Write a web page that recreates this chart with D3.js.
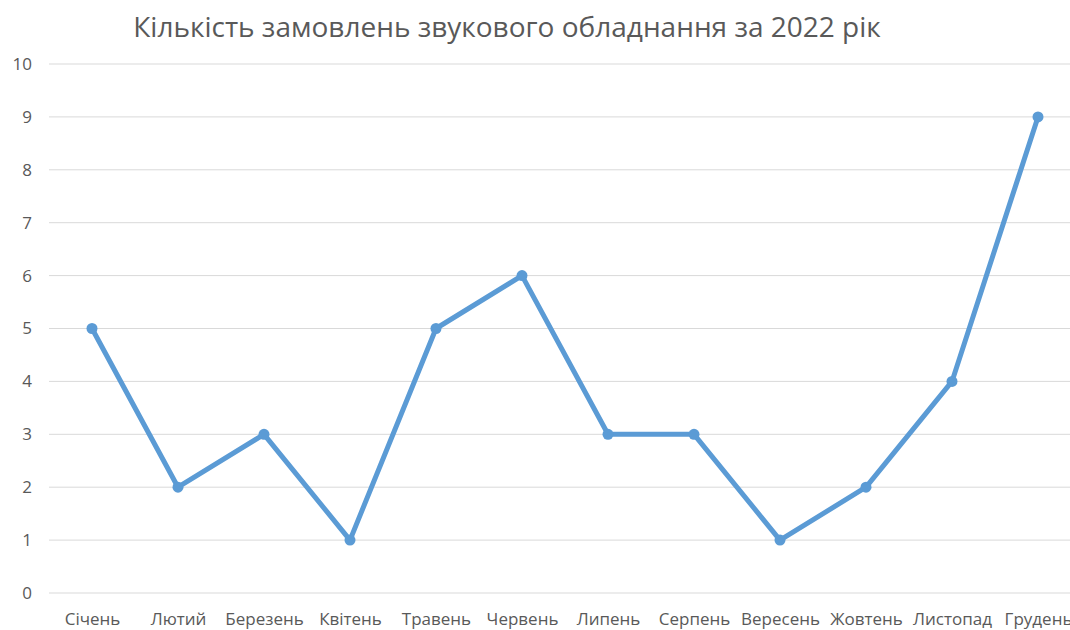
<!DOCTYPE html>
<meta charset="utf-8">
<script src="https://d3js.org/d3.v7.min.js"></script>
<style>
  body { margin: 0; background: #fff; }
  text { font-family: "Open Sans", "Noto Sans", sans-serif; fill: #595959; }
</style>
<div id="my_dataviz"></div>
<script>
// chart data
var months = ["Січень", "Лютий", "Березень", "Квітень", "Травень", "Червень",
              "Липень", "Серпень", "Вересень", "Жовтень", "Листопад", "Грудень"];
var orders = [5, 2, 3, 1, 5, 6, 3, 3, 1, 2, 4, 9];
var yTicks = [0, 1, 2, 3, 4, 5, 6, 7, 8, 9, 10];
var title = "Кількість замовлень звукового обладнання за 2022 рік";

var W = 1070, H = 630;
var margin = {top: 64, left: 49, bottom: 37};
var plotRight = 1081;

var svg = d3.select("#my_dataviz")
  .append("svg")
  .attr("width", W)
  .attr("height", H);

var x = d3.scalePoint()
  .domain(months)
  .range([margin.left, plotRight])
  .padding(0.5);

var y = d3.scaleLinear()
  .domain([0, 10])
  .range([H - margin.bottom, margin.top]);

// gridlines
svg.append("g")
  .selectAll("line")
  .data(yTicks)
  .enter()
  .append("line")
    .attr("x1", margin.left)
    .attr("x2", plotRight)
    .attr("y1", d => y(d))
    .attr("y2", d => y(d))
    .attr("stroke", "#d9d9d9")
    .attr("stroke-width", 1);

// y axis labels
var yAxis = svg.append("g")
  .attr("transform", "translate(" + margin.left + ",0)")
  .call(d3.axisLeft(y).tickValues(yTicks).tickSize(0).tickPadding(17));
yAxis.select(".domain").remove();
yAxis.selectAll("text")
  .style("font-size", "17px")
  .style("font-family", "'Open Sans', sans-serif")
  .attr("fill", "#595959");

// x axis labels
var xAxis = svg.append("g")
  .attr("transform", "translate(0," + (H - margin.bottom) + ")")
  .call(d3.axisBottom(x).tickSize(0).tickPadding(20));
xAxis.select(".domain").remove();
xAxis.selectAll("text")
  .style("font-size", "17px")
  .style("font-family", "'Open Sans', sans-serif")
  .attr("fill", "#595959");

// title
svg.append("text")
  .attr("x", 507)
  .attr("y", 37)
  .attr("text-anchor", "middle")
  .style("font-size", "28px")
  .text(title);

// line
var line = d3.line()
  .x((d, i) => x(months[i]))
  .y(d => y(d));

svg.append("path")
  .datum(orders)
  .attr("fill", "none")
  .attr("stroke", "#5b9bd5")
  .attr("stroke-width", 5)
  .attr("stroke-linejoin", "round")
  .attr("d", line);

svg.append("g")
  .selectAll("circle")
  .data(orders)
  .enter()
  .append("circle")
    .attr("cx", (d, i) => x(months[i]))
    .attr("cy", d => y(d))
    .attr("r", 5.5)
    .attr("fill", "#5b9bd5");
</script>
